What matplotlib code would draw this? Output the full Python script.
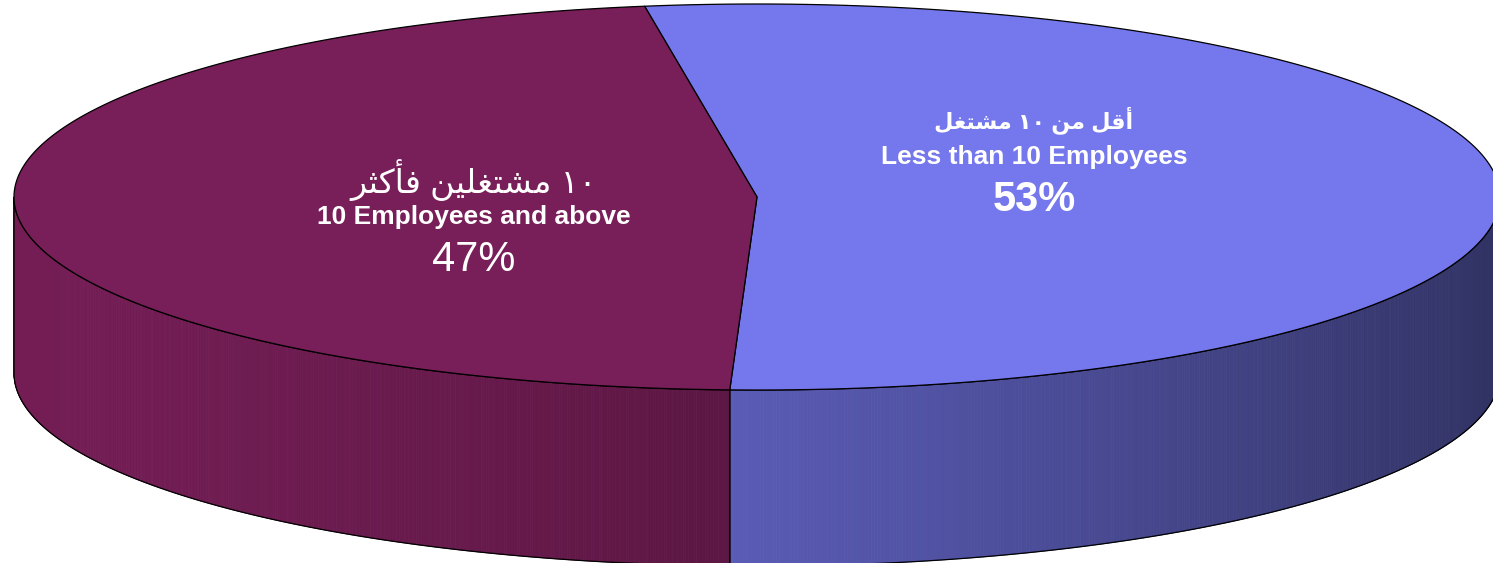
import numpy as np
import matplotlib.pyplot as plt
from matplotlib.patches import Polygon
from matplotlib.collections import PolyCollection
from matplotlib.colors import to_rgb

# data
labels_ar = ["أقل من ١٠ مشتغل", "١٠ مشتغلين فأكثر"]
labels_en = ["Less than 10 Employees", "10 Employees and above"]
shares = [53, 47]

# style
top_colors = ["#7577EC", "#781E58"]
label_pos = [(1034, 160), (474, 220)]   # centre of each label block (px)
label_bold = [True, False]

# Arabic presentation forms: isolated, final, initial, medial
FORMS = {
    'ا': ('\uFE8D', '\uFE8E'),
    'أ': ('\uFE83', '\uFE84'),
    'ر': ('\uFEAD', '\uFEAE'),
    'ت': ('\uFE95', '\uFE96', '\uFE97', '\uFE98'),
    'ث': ('\uFE99', '\uFE9A', '\uFE9B', '\uFE9C'),
    'ش': ('\uFEB5', '\uFEB6', '\uFEB7', '\uFEB8'),
    'غ': ('\uFECD', '\uFECE', '\uFECF', '\uFED0'),
    'ف': ('\uFED1', '\uFED2', '\uFED3', '\uFED4'),
    'ق': ('\uFED5', '\uFED6', '\uFED7', '\uFED8'),
    'ك': ('\uFED9', '\uFEDA', '\uFEDB', '\uFEDC'),
    'ل': ('\uFEDD', '\uFEDE', '\uFEDF', '\uFEE0'),
    'م': ('\uFEE1', '\uFEE2', '\uFEE3', '\uFEE4'),
    'ن': ('\uFEE5', '\uFEE6', '\uFEE7', '\uFEE8'),
    'ي': ('\uFEF1', '\uFEF2', '\uFEF3', '\uFEF4'),
}


def shape_ar(text):
    # matplotlib has no arabic shaping, so join letters and put them in visual order
    words = []
    for w in text.split(' '):
        if not any(ch in FORMS for ch in w):
            words.append(w)
            continue
        out = []
        for i, ch in enumerate(w):
            f = FORMS[ch]
            prev_joins = i > 0 and len(FORMS.get(w[i - 1], ())) == 4
            next_joins = len(f) == 4 and i + 1 < len(w) and w[i + 1] in FORMS
            if prev_joins and next_joins:
                out.append(f[3])
            elif prev_joins:
                out.append(f[1])
            elif next_joins:
                out.append(f[2])
            else:
                out.append(f[0])
        words.append(''.join(reversed(out)))
    return ' '.join(reversed(words))


def shade(u):
    # light comes from the left
    return 0.97 - 0.3 * u - 0.25 * u ** 2


cx, cy, rx, ry, depth = 757, 197, 743, 193, 176
start = 98.7

fig = plt.figure(figsize=(14.93, 5.63), dpi=100)
ax = fig.add_axes([0, 0, 1, 1])
ax.set_xlim(0, 1493)
ax.set_ylim(563, 0)
ax.axis('off')

fracs = np.array(shares) / np.sum(shares)
a0 = start
for i, fr in enumerate(fracs):
    a1 = a0 - 360 * fr
    t = np.radians(np.linspace(a0, a1, 800))
    x = cx + rx * np.cos(t)
    y = cy - ry * np.sin(t)
    base = np.array(to_rgb(top_colors[i]))

    # side wall (front half only)
    front = np.sin(t) < 0
    idx = np.where(front)[0]
    if len(idx) > 1:
        runs = np.split(idx, np.where(np.diff(idx) > 1)[0] + 1)
        for r in runs:
            xs, ys = x[r], y[r]
            quads, cols = [], []
            for k in range(len(r) - 1):
                quads.append([(xs[k], ys[k]), (xs[k + 1], ys[k + 1]),
                              (xs[k + 1], ys[k + 1] + depth), (xs[k], ys[k] + depth)])
                u = ((xs[k] + xs[k + 1]) / 2 - (cx - rx)) / (2 * rx)
                cols.append(np.clip(base * shade(u), 0, 1))
            ax.add_collection(PolyCollection(quads, facecolors=cols, edgecolors=cols, linewidths=0.6))
            outline = list(zip(xs, ys)) + list(zip(xs[::-1], ys[::-1] + depth))
            ax.add_patch(Polygon(outline, closed=True, fill=False, edgecolor='black', lw=0.9))

    # top face
    pts = [(cx, cy)] + list(zip(x, y))
    ax.add_patch(Polygon(pts, closed=True, facecolor=top_colors[i], edgecolor='black', lw=0.9))
    a0 = a1

fam = ['Liberation Sans', 'DejaVu Sans']
for i in range(len(shares)):
    lx, ly = label_pos[i]
    w = 'bold' if label_bold[i] else 'normal'
    ax.text(lx, ly - 40, shape_ar(labels_ar[i]), ha='center', va='center', color='white',
            fontsize=16 if label_bold[i] else 24, fontweight=w, family=fam)
    ax.text(lx, ly - 3, labels_en[i], ha='center', va='center', color='white',
            fontsize=19, fontweight='bold', family=fam)
    ax.text(lx, ly + 40, f"{shares[i]}%", ha='center', va='center', color='white',
            fontsize=30, fontweight=w, family=fam)

fig.savefig('out.png', dpi=100)
